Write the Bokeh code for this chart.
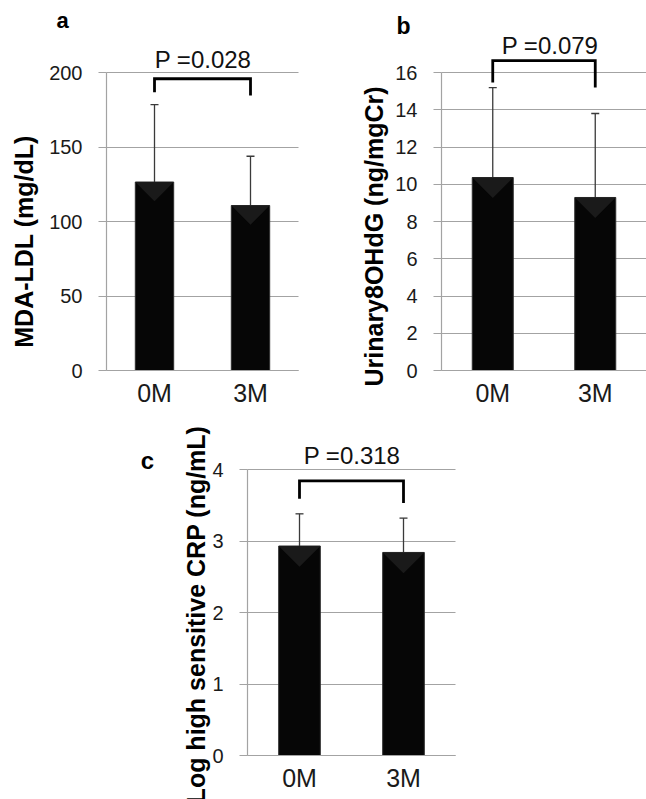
import math
from bokeh.plotting import figure
from bokeh.models import (Range1d, FixedTicker, Whisker, TeeHead, ColumnDataSource,
                          LinearAxis, Grid)
from bokeh.core.properties import value
from bokeh.layouts import row, column
from bokeh.embed import file_html
from bokeh.resources import INLINE

# ---------------- data ----------------
categories = ["0M", "3M"]

a_means = [126.5, 110.7]
a_upper = [178.5, 143.8]
a_ticks = [0, 50, 100, 150, 200]
a_ylabel = "MDA-LDL (mg/dL)"
a_ptext = "P =0.028"
a_bracket_y = [186.8, 195.8, 195.8, 184.6]

b_means = [10.36, 9.29]
b_upper = [15.19, 13.8]
b_ticks = [0, 2, 4, 6, 8, 10, 12, 14, 16]
b_ylabel = "Urinary8OHdG (ng/mgCr)"
b_ptext = "P =0.079"
b_bracket_y = [15.46, 16.64, 16.64, 15.2]

c_means = [2.93, 2.84]
c_upper = [3.38, 3.32]
c_ticks = [0, 1, 2, 3, 4]
c_ylabel = "Log high sensitive CRP (ng/mL)"
c_ptext = "P =0.318"
c_bracket_y = [3.59, 3.84, 3.84, 3.53]

panel_letters = ["a", "b", "c"]

FONT = "Liberation Sans"
GRID = "#a3a3a3"
BAR_W = 0.4
HAS_CROSS = "cross_bounds" in Grid.properties()


def make_panel(lay, means, upper, ticks, ylabel, ptext, bracket_y, letter, texts):
    # lay: figure origin/size in page pixels and axis geometry (pixels)
    ox, oy, w, h = lay["ox"], lay["oy"], lay["w"], lay["h"]
    ax_px, ux = lay["axis_x"] - ox, lay["ux"]
    zero_px, uy = lay["zero_y"] - oy, lay["uy"]

    def dx(px):  # page px -> data x
        return (px - ox - ax_px) / ux

    def dy(py):  # page px -> data y
        return (zero_px - (py - oy)) / uy

    p = figure(width=w, height=h,
               x_range=Range1d(-ax_px / ux, (w - ax_px) / ux),
               y_range=Range1d(-(h - zero_px) / uy, zero_px / uy),
               x_axis_location=None, y_axis_location=None,
               min_border=0, title=None, toolbar_location=None,
               output_backend="svg")
    p.center = [r for r in p.center if not isinstance(r, Grid)]
    p.outline_line_color = None
    p.background_fill_color = "white"
    p.border_fill_color = "white"

    xs = [i + 0.5 for i in range(len(categories))]
    n = len(categories)

    # horizontal grid lines
    if HAS_CROSS:
        g = Grid(dimension=1, ticker=FixedTicker(ticks=ticks),
                 grid_line_color=GRID, grid_line_width=1.2,
                 bounds=(ticks[0], ticks[-1]), cross_bounds=(0, n))
        p.add_layout(g)
    else:
        p.segment(x0=[0] * len(ticks), x1=[n] * len(ticks), y0=ticks, y1=ticks,
                  line_color=GRID, line_width=1.2)

    # y axis
    yax = LinearAxis(ticker=FixedTicker(ticks=ticks), bounds=(ticks[0], ticks[-1]),
                     fixed_location=0)
    yax.axis_line_color = GRID
    yax.axis_line_width = 1.2
    yax.major_tick_line_color = GRID
    yax.major_tick_line_width = 1.2
    yax.major_tick_out = 8
    yax.major_tick_in = 0
    yax.minor_tick_line_color = None
    yax.major_label_standoff = 16
    yax.major_label_text_font = FONT
    yax.major_label_text_font_size = "20px"
    yax.major_label_text_color = "#1a1a1a"
    p.add_layout(yax, "left")

    # x axis (categories)
    xax = LinearAxis(ticker=FixedTicker(ticks=xs), bounds=(0, n),
                     fixed_location=ticks[0],
                     major_label_overrides={x: c for x, c in zip(xs, categories)})
    xax.axis_line_color = GRID
    xax.axis_line_width = 1.2
    xax.major_tick_line_color = None
    xax.minor_tick_line_color = None
    xax.major_tick_out = 0
    xax.major_label_standoff = 8
    xax.major_label_text_font = FONT
    xax.major_label_text_font_size = "25px"
    xax.major_label_text_color = "#1a1a1a"
    p.add_layout(xax, "below")

    # bars
    src = ColumnDataSource(dict(x=xs, top=means, lower=means, upper=upper))
    p.vbar(x="x", top="top", width=BAR_W, source=src,
           fill_color="#060606", line_color="#2e2e2e", line_width=1)
    # subtle bevel shading at the top of each bar (derived from bar values)
    depth = (BAR_W / 2) * ux / uy
    p.patches(xs=[[x - BAR_W / 2, x + BAR_W / 2, x] for x in xs],
              ys=[[m, m, m - depth] for m in means],
              fill_color="#1a1a1a", line_color=None)

    # upper error bars
    p.add_layout(Whisker(base="x", lower="lower", upper="upper", source=src,
                         line_color="#3a3a3a", line_width=1.3, lower_head=None,
                         upper_head=TeeHead(size=8, line_color="#3a3a3a",
                                            line_width=1.3)))

    # significance bracket
    p.line(x=[xs[0], xs[0], xs[-1], xs[-1]], y=bracket_y,
           line_color="black", line_width=2.8, line_join="miter")

    # p value
    px_, py_ = texts["p"]
    p.text(x=[dx(px_)], y=[dy(py_)], text=[ptext],
           text_font=value(FONT), text_font_size="24px", text_color="#111111",
           text_align="center", text_baseline="middle")
    # panel letter
    lx, ly, lsize = texts["letter"]
    p.text(x=[dx(lx)], y=[dy(ly)], text=[letter],
           text_font=value(FONT), text_font_size=lsize, text_font_style="bold",
           text_color="black", text_align="center", text_baseline="alphabetic")
    # y axis title
    tx, ty = texts["ylabel"]
    p.text(x=[dx(tx)], y=[dy(ty)], text=[ylabel], angle=math.pi / 2,
           text_font=value(FONT), text_font_size="25px", text_font_style="bold",
           text_color="black", text_align="center", text_baseline="alphabetic")
    return p


pa = make_panel(dict(ox=0, oy=0, w=320, h=408, axis_x=106, ux=96, zero_y=370, uy=1.49),
                a_means, a_upper, a_ticks, a_ylabel, a_ptext, a_bracket_y,
                panel_letters[0],
                dict(p=(202.5, 58.5), letter=(62, 20, "22px"), ylabel=(23, 241)))

pb = make_panel(dict(ox=320, oy=0, w=326, h=408, axis_x=441, ux=102.5, zero_y=370, uy=18.625),
                b_means, b_upper, b_ticks, b_ylabel, b_ptext, b_bracket_y,
                panel_letters[1],
                dict(p=(549.5, 45), letter=(403, 25, "23px"), ylabel=(373, 236)))

pc = make_panel(dict(ox=0, oy=408, w=470, h=391, axis_x=247, ux=104, zero_y=755, uy=71.5),
                c_means, c_upper, c_ticks, c_ylabel, c_ptext, c_bracket_y,
                panel_letters[2],
                dict(p=(351.5, 455), letter=(147, 460, "24px"), ylabel=(195, 614)))

layout = column(row(pa, pb), pc)

with open("out.html", "w") as f:
    f.write(file_html(layout, INLINE))
